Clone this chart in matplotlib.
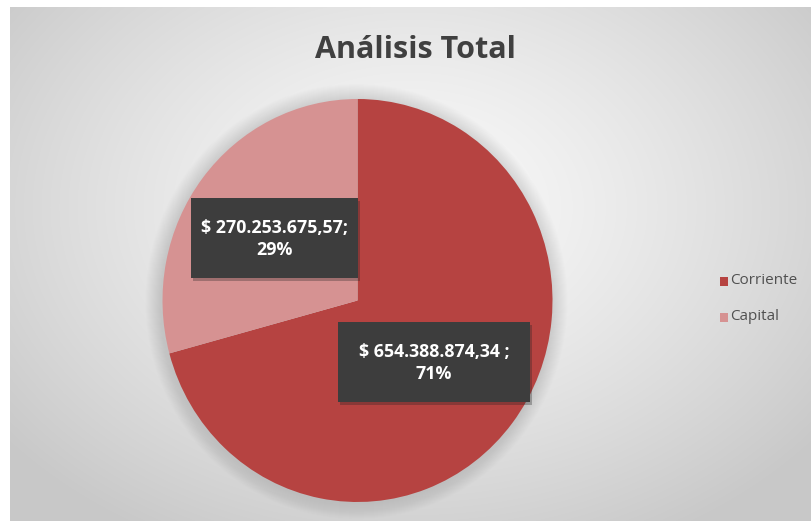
import numpy as np
import matplotlib
matplotlib.use("Agg")
import matplotlib.pyplot as plt
from matplotlib.patches import Rectangle, Ellipse

categories = ["Corriente", "Capital"]
values = [654388874.34, 270253675.57]
percent_labels = ["71%", "29%"]
separators = [" ; ", "; "]
colors = ["#B64341", "#D69292"]
title = "Análisis Total"

W, H = 811, 521
fig = plt.figure(figsize=(W / 100, H / 100), dpi=100)

# ---- background gradient panel ----
bg = fig.add_axes([10 / W, 0, (W - 10) / W, (H - 7) / H])
bg.set_axis_off()
ny, nx = 514, 801
yy, xx = np.mgrid[0:ny, 0:nx]
cx, cy = 400, 200
r = np.sqrt(((xx - cx) / 520.0) ** 2 + ((yy - cy) / 380.0) ** 2)
r = np.clip(r, 0, 1)
val = 250 - 50 * r ** 1.3
img = np.dstack([val, val, val]) / 255.0
bg.imshow(img, aspect="auto", extent=[0, nx, ny, 0])
bg.set_xlim(0, nx)
bg.set_ylim(ny, 0)

# ---- overlay axes in pixel coordinates ----
ov = fig.add_axes([0, 0, 1, 1], zorder=1)
ov.set_xlim(0, W)
ov.set_ylim(H, 0)
ov.set_axis_off()
ov.patch.set_alpha(0)

# soft shadow around pie
pcx, pcy, prx, pry = 357.5, 300.5, 195, 201.5
for grow in np.arange(16, 0, -1.0):
    ov.add_patch(Ellipse((pcx - 1, pcy + 1), 2 * (prx + grow), 2 * (pry + grow),
                         color="#707070", alpha=0.012, lw=0))

# ---- pie ----
pax = fig.add_axes([(pcx - prx) / W, (H - (pcy + pry)) / H, 2 * prx / W, 2 * pry / H], zorder=2)
pax.pie(values, colors=colors, startangle=90, counterclock=False,
        wedgeprops=dict(linewidth=0))
pax.set_aspect("auto")
pax.set_xlim(-1, 1)
pax.set_ylim(-1, 1)
pax.patch.set_alpha(0)

# ---- data labels ----
lab = fig.add_axes([0, 0, 1, 1], zorder=3)
lab.set_xlim(0, W)
lab.set_ylim(H, 0)
lab.set_axis_off()
lab.patch.set_alpha(0)


def fmt(v):
    s = f"{v:,.2f}"
    return s.replace(",", "X").replace(".", ",").replace("X", ".")


boxes = [(338, 322, 192, 80), (191, 198, 167, 80)]
for v, pl, sep, (bx, by, bw, bh) in zip(values, percent_labels, separators, boxes):
    lab.add_patch(Rectangle((bx + 2, by + 3), bw, bh, color="#202020", alpha=0.3, lw=0))
    lab.add_patch(Rectangle((bx, by), bw, bh, color="#3D3D3D", lw=0))
    txt = "$ " + fmt(v) + sep.rstrip() + "\n" + pl
    lab.text(bx + bw / 2, by + bh / 2 + 1, txt, ha="center", va="center",
             color="white", fontsize=12.8, fontweight="bold", family="Open Sans",
             linespacing=1.3)

# ---- title ----
lab.text(415, 50, title, ha="center", va="center", fontsize=22,
         fontweight="bold", family="Open Sans", color="#404040")

# ---- legend ----
for i, (c, name) in enumerate(zip(colors, categories)):
    y = 281 + i * 36
    lab.add_patch(Rectangle((720, y - 4.5), 8, 9, color=c, lw=0))
    lab.text(730, y, name, ha="left", va="center", fontsize=11,
             family="Open Sans", color="#505050")

fig.savefig("out.png", dpi=100)
